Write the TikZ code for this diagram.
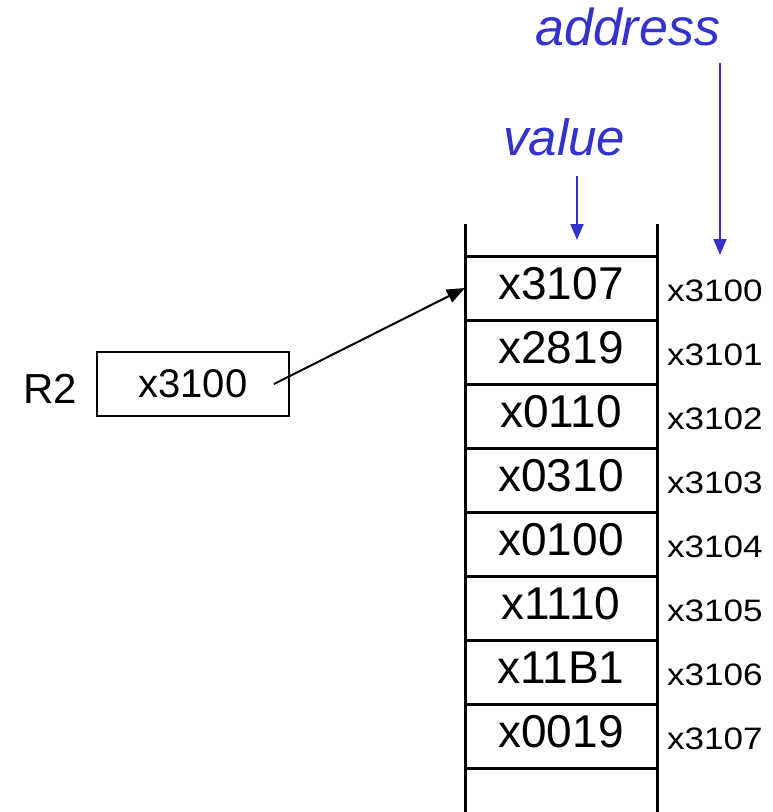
\documentclass[tikz,border=0pt]{standalone}
\usepackage{fontspec}
\setmainfont{Liberation Sans}
\usetikzlibrary{arrows.meta,positioning,calc}
\definecolor{labelblue}{HTML}{3333CC}
\tikzset{
  cell/.style={draw, line width=3pt, minimum width=192pt, minimum height=64pt,
    inner sep=0pt, outer sep=0pt, text depth=9pt, font=\fontsize{46}{50}\selectfont},
  addr/.style={anchor=base west, inner sep=0pt, font=\fontsize{31}{34}\selectfont},
  bluelabel/.style={anchor=base west, text=labelblue, inner sep=0pt,
    font=\fontsize{51}{56}\selectfont\itshape},
  bluearrow/.style={draw=labelblue, line width=2pt, -{Triangle[length=16pt,width=13pt]}},
}

\begin{document}
\begin{tikzpicture}[x=1pt, y=-1pt]
    \useasboundingbox (0,0) rectangle (772,812);
    % memory cells with their addresses
    \foreach \val/\adr [count=\i] in {x3107/x3100, x2819/x3101, x0110/x3102, x0310/x3103,
                                      x0100/x3104, x1110/x3105, x11B1/x3106, x0019/x3107}{
        \node[cell] (c\i) at (561,{224+64*\i}) {\val};
        \node[addr] (a\i) at ([xshift=10pt,yshift=19pt]c\i.south east) {\scalebox{1.13}[1]{\adr}};
    }
    \draw[line width=3pt] (c1.north west) -- ++(0,-32) (c1.north east) -- ++(0,-32);
    \draw[line width=3pt] (c8.south west) -- ++(0,44) (c8.south east) -- ++(0,44);

    % register
    \node[draw, line width=2pt, minimum width=192pt, minimum height=64pt, inner sep=0pt,
          font=\fontsize{40}{44}\selectfont] (reg) at (193,384) {x3100};
    \node[left=19pt of reg, yshift=-5pt, inner sep=0pt, font=\fontsize{42}{46}\selectfont] (regname) {R2};
    \coordinate (ptr) at ([xshift=-16pt]reg.east);
    \draw[line width=2pt, -{Triangle[length=18pt,width=14pt]}] (ptr) -- (c1.west);

    % headings
    \node[bluelabel] (valuelbl) at (503,155) {value};
    \node[bluelabel, font=\fontsize{52}{56}\selectfont\itshape] (addrlbl) at (535,45) {address};
    \coordinate (valtop) at (577,176);
    \coordinate (valtip) at (577,240);
    \coordinate (adrtop) at (720,63);
    \coordinate (adrtip) at (720,255);
    \draw[bluearrow] (valtop) -- (valtip);
    \draw[bluearrow] (adrtop) -- (adrtip);
\end{tikzpicture}
\end{document}
